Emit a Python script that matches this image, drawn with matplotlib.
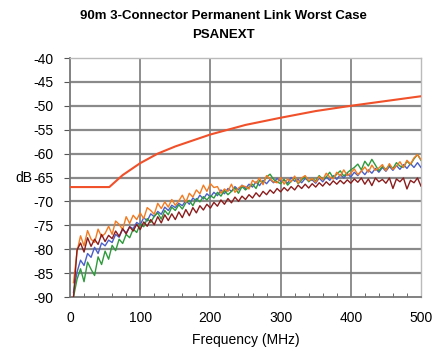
import matplotlib
matplotlib.use("Agg")
import matplotlib.pyplot as plt
from matplotlib.ticker import MultipleLocator

plt.rcParams['font.family'] = ['Liberation Sans', 'DejaVu Sans']
plt.rcParams['axes.unicode_minus'] = False

title_lines = ["90m 3-Connector Permanent Link Worst Case", "PSANEXT"]
x_label = "Frequency (MHz)"
y_label = "dB"

# limit line
limit_f = [0, 56, 75, 100, 125, 150, 200, 250, 300, 350, 400, 450, 500]
limit_db = [-67, -67, -64.5, -62, -60, -58.5, -56, -54, -52.5, -51.1, -50, -49, -48]

# measured traces, sampled every 5 MHz from 5 to 500
freq = list(range(5, 505, 5))

orange = [-87, -80.5, -77.2, -79.3, -76.1, -77.9, -78.6, -75.8, -77.4, -76.7,
          -75.2, -76.9, -74.1, -74.8, -75.9, -73.2, -74.6, -72.9, -73.8, -72.4,
          -73.6, -71.3, -71.9, -72.7, -70.4, -71.5, -70.1, -71.2, -69.6, -70.8,
          -69.9, -68.7, -70.2, -68.3, -69.1, -67.6, -68.4, -66.6, -67.9, -66.3,
          -67.1, -66.9, -68.3, -67.4, -67.9, -66.4, -68.1, -67.2, -66.7, -66.9,
          -67.4, -65.6, -66.2, -65.1, -66.5, -64.6, -65.3, -65.9, -66.1, -65.0,
          -66.4, -65.3, -65.9, -64.7, -66.2, -65.1, -64.6, -65.7, -65.2, -66.0,
          -64.8, -65.5, -64.1, -64.9, -65.3, -63.9, -64.7, -63.4, -64.6, -64.1,
          -63.2, -64.4, -63.7, -62.8, -63.9, -62.4, -63.5, -63.0, -62.3, -63.6,
          -62.1, -63.3, -62.6, -61.7, -62.9, -61.4, -62.2, -60.9, -60.2, -61.3]

green = [-90, -86.3, -84.1, -86.8, -82.7, -84.2, -85.5, -81.6, -83.2, -80.4,
         -82.1, -79.2, -80.3, -77.9, -78.8, -76.9, -77.6, -75.8, -76.5, -74.7,
         -75.3, -73.6, -74.4, -73.1, -72.4, -73.7, -71.9, -72.8, -71.2, -71.9,
         -70.7, -71.6, -70.3, -69.8, -70.9, -69.4, -70.1, -69.0, -69.7, -68.8,
         -69.3, -68.1, -68.9, -67.7, -68.6, -67.9, -67.2, -68.3, -66.9, -67.6,
         -67.0, -66.4, -67.3, -65.6, -66.1, -64.9, -64.3, -65.4, -65.9, -66.3,
         -65.4, -66.6, -65.8, -65.1, -66.3, -65.5, -64.8, -65.9, -65.2, -65.7,
         -64.6, -65.4, -64.9, -63.9, -65.1, -64.3, -63.6, -64.7, -64.0, -63.4,
         -62.9, -62.2, -63.4, -61.6, -62.6, -61.2, -62.4, -63.6, -62.7, -63.3,
         -62.4, -63.1, -61.9, -62.6, -62.9, -61.6, -62.3, -61.1, -60.2, -61.4]

blue = [-89, -84.8, -82.3, -83.4, -80.9, -81.7, -79.6, -80.9, -78.7, -79.3,
        -78.1, -78.6, -76.9, -77.5, -75.8, -76.6, -75.3, -75.7, -74.4, -74.9,
        -73.4, -74.1, -72.6, -73.2, -72.1, -72.7, -71.2, -71.9, -70.8, -71.3,
        -70.4, -70.9, -69.8, -70.6, -69.3, -69.9, -68.7, -69.5, -68.4, -69.1,
        -68.1, -68.8, -67.6, -68.4, -67.3, -67.9, -66.9, -67.6, -66.6, -67.3,
        -66.4, -67.0, -65.9, -66.7, -65.6, -66.3, -65.4, -66.1, -65.2, -65.8,
        -65.5, -66.2, -65.0, -65.8, -65.4, -66.1, -65.2, -65.7, -65.5, -66.2,
        -65.1, -65.9, -64.9, -65.6, -64.6, -65.4, -64.4, -65.1, -64.2, -64.9,
        -63.9, -64.6, -63.6, -64.4, -63.4, -64.1, -63.1, -63.9, -62.9, -63.7,
        -62.7, -63.5, -62.5, -63.3, -62.3, -63.1, -62.1, -62.9, -61.9, -62.9]

darkred = [-90, -80.2, -78.7, -80.6, -77.6, -79.4, -77.9, -79.0, -76.9, -78.4,
           -77.1, -77.8, -76.2, -77.3, -75.7, -76.8, -75.3, -76.2, -74.8, -75.9,
           -74.3, -75.2, -73.8, -74.9, -73.2, -74.5, -72.8, -74.0, -72.6, -73.8,
           -72.2, -73.4, -71.7, -73.0, -71.3, -72.4, -70.9, -71.8, -70.6, -71.4,
           -70.2, -71.0, -69.7, -70.6, -69.4, -70.3, -69.1, -70.0, -68.9, -69.6,
           -68.6, -69.3, -68.2, -69.0, -67.9, -68.6, -67.6, -68.3, -67.3, -68.0,
           -67.1, -67.8, -66.9, -67.6, -66.6, -67.3, -66.4, -67.2, -66.3, -67.0,
           -66.1, -66.8, -65.9, -66.6, -65.7, -66.4, -65.6, -66.3, -65.5, -66.2,
           -65.3, -66.0, -65.1, -66.4, -65.3, -66.7, -65.1, -65.9, -65.4, -66.2,
           -65.1, -67.3, -65.3, -65.9, -65.1, -67.4, -65.6, -66.1, -65.1, -66.8]

x_ticks = [0, 100, 200, 300, 400, 500]
y_ticks = [-90, -85, -80, -75, -70, -65, -60, -55, -50, -45, -40]

W, H = 433, 354
fig = plt.figure(figsize=(W / 100, H / 100), dpi=100)
ax = fig.add_axes([70 / W, 1 - 297 / H, (421 - 70) / W, (297 - 58) / H])

for yv in y_ticks[1:-1]:
    ax.axhline(yv, color='#8a8a8a', lw=1.6, zorder=1)
for xv in x_ticks[1:-1]:
    ax.axvline(xv, color='#7a7a7a', lw=1.2, zorder=1)

ax.plot(freq, blue, color='#4a5fc8', lw=1.0, zorder=3)
ax.plot(freq, green, color='#2e9a3c', lw=1.0, zorder=3)
ax.plot(freq, orange, color='#f47a20', lw=1.0, zorder=3)
ax.plot(freq, darkred, color='#8b1c1c', lw=1.0, zorder=3)
ax.plot(limit_f, limit_db, color='#f0502a', lw=1.5, zorder=4)

ax.set_xlim(0, 500)
ax.set_ylim(-90, -40)
ax.set_xticks(x_ticks)
ax.set_yticks(y_ticks)
ax.xaxis.set_minor_locator(MultipleLocator(20))
ax.tick_params(axis='x', which='major', length=0, pad=10, labelsize=10)
ax.tick_params(axis='x', which='minor', direction='in', length=3, color='#555555')
ax.tick_params(axis='y', which='major', direction='out', length=4, pad=8, labelsize=10, color='#555555')

for s in ['left', 'bottom']:
    ax.spines[s].set_color('#777777')
    ax.spines[s].set_linewidth(1.3)
for s in ['top', 'right']:
    ax.spines[s].set_color('#bbbbbb')
    ax.spines[s].set_linewidth(1.0)

ax.set_xlabel(x_label, fontsize=10, labelpad=6)
fig.text(24 / W, 1 - 178 / H, y_label, fontsize=10, ha='center', va='center')
fig.text(223 / W, 1 - 16 / H, title_lines[0], fontsize=9.5, fontweight='bold', ha='center', va='center')
fig.text(223 / W, 1 - 35 / H, title_lines[1], fontsize=9.5, fontweight='bold', ha='center', va='center')

fig.savefig('out.png', dpi=100)
